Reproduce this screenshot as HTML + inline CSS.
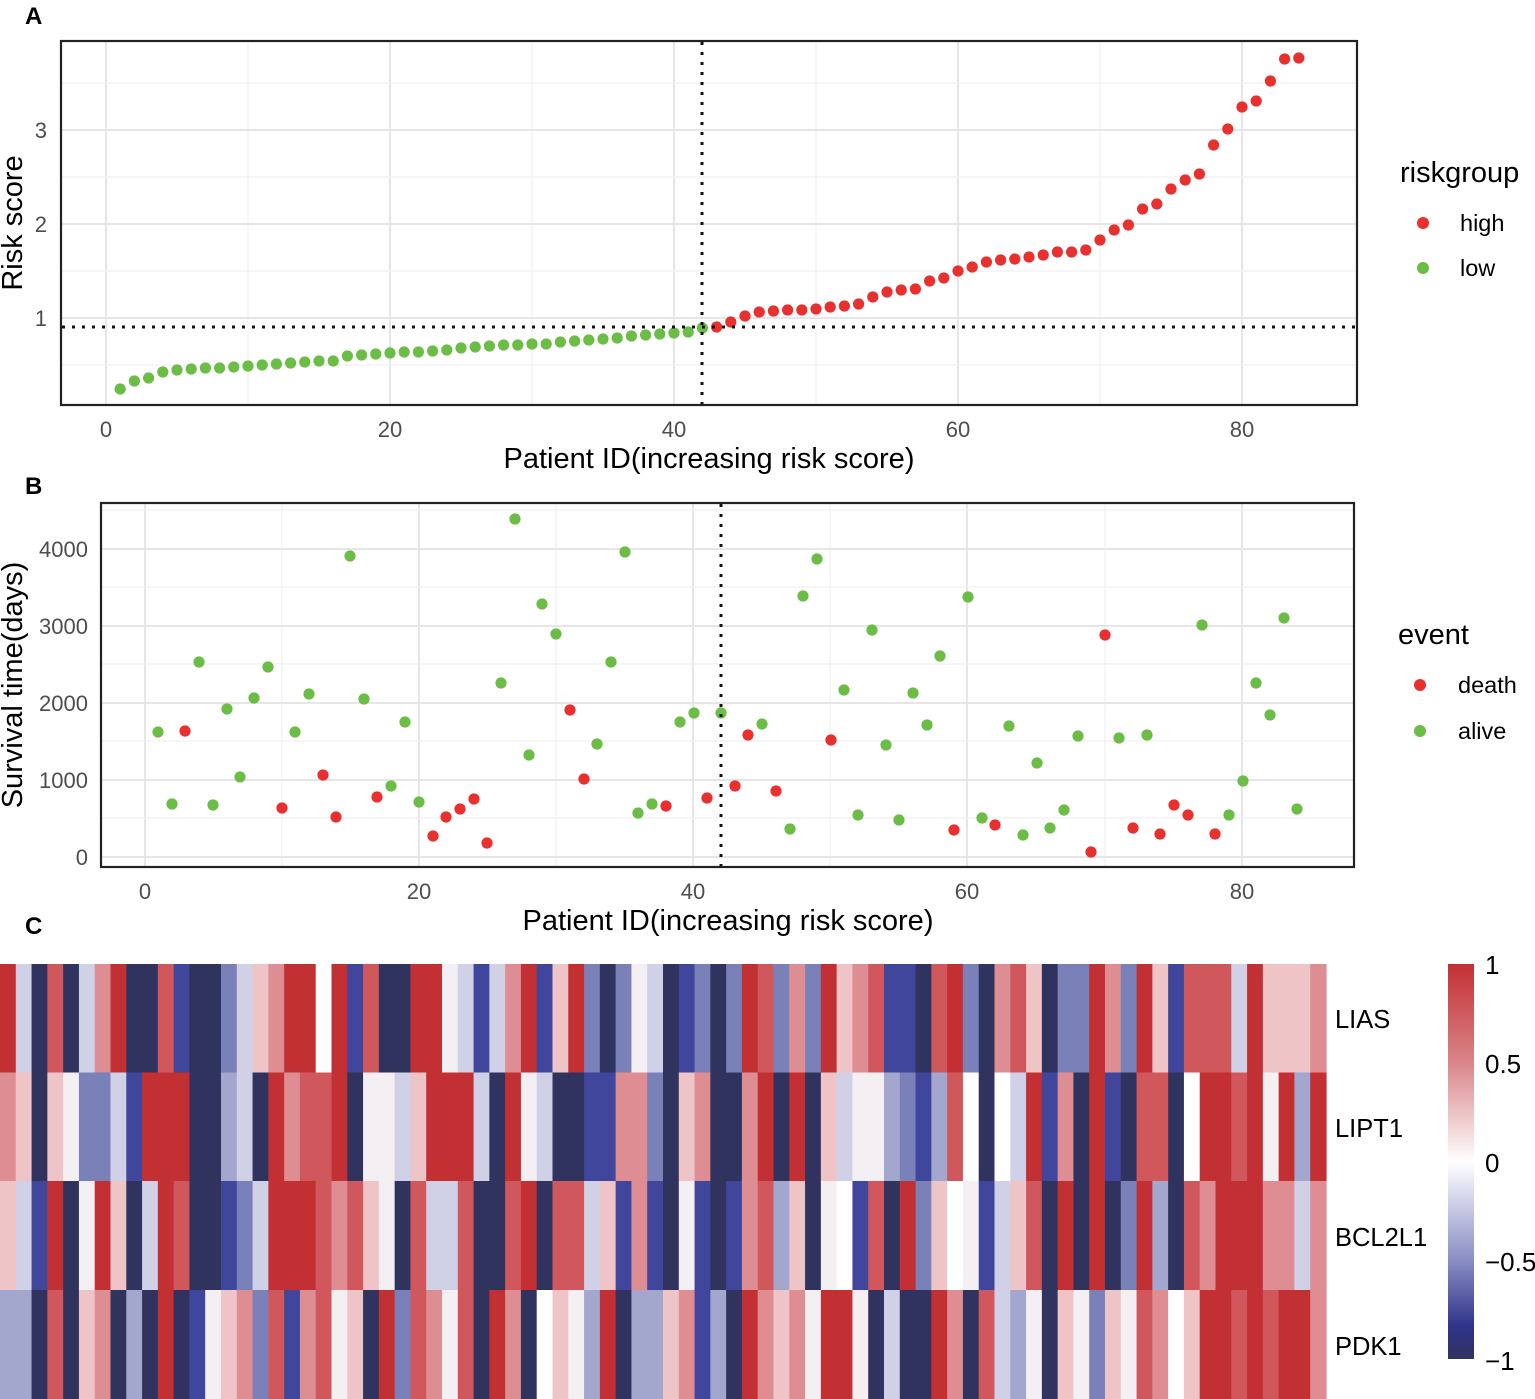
<!DOCTYPE html>
<html><head><meta charset="utf-8"><style>
html,body{margin:0;padding:0;background:#fff;width:1535px;height:1399px;overflow:hidden}
svg text{font-family:"Liberation Sans",Arial,sans-serif}
</style></head><body>
<svg id="s" width="1535" height="1399" viewBox="0 0 1535 1399" xmlns="http://www.w3.org/2000/svg">
<defs><linearGradient id="g" x1="0" y1="0" x2="0" y2="1">
<stop offset="0" stop-color="#c33033"/><stop offset="0.25" stop-color="#d98589"/><stop offset="0.5" stop-color="#ffffff"/><stop offset="0.75" stop-color="#8a8ec4"/><stop offset="0.92" stop-color="#2e3388"/><stop offset="1" stop-color="#31335f"/></linearGradient></defs>
<g id="grid"></g>
<g id="pts"></g>
<!-- Panel A -->
<rect x="61" y="41" width="1296" height="364" fill="none" stroke="#222" stroke-width="2.2"/>
<line x1="702" y1="42" x2="702" y2="404" stroke="#111" stroke-width="3" stroke-dasharray="3,7"/>
<line x1="62" y1="327" x2="1356" y2="327" stroke="#111" stroke-width="3" stroke-dasharray="3,7"/>
<g font-size="22" fill="#4d4d4d" text-anchor="middle">
<text x="106" y="437">0</text><text x="390" y="437">20</text><text x="674" y="437">40</text><text x="958" y="437">60</text><text x="1242" y="437">80</text>
<text x="47" y="326" text-anchor="end">1</text><text x="47" y="232" text-anchor="end">2</text><text x="47" y="138" text-anchor="end">3</text>
</g>
<text x="709" y="468" font-size="29" text-anchor="middle" fill="#000">Patient ID(increasing risk score)</text>
<text transform="translate(22,223) rotate(-90)" font-size="29" text-anchor="middle" fill="#000">Risk score</text>
<text x="1400" y="182" font-size="29" fill="#000">riskgroup</text>
<circle cx="1423" cy="223" r="6" fill="#e8312f"/><text x="1460" y="231" font-size="23.5">high</text>
<circle cx="1423" cy="268" r="6" fill="#6cbd45"/><text x="1460" y="276" font-size="23.5">low</text>
<text x="25" y="24" font-size="24" font-weight="bold">A</text>
<!-- Panel B -->
<rect x="101" y="503" width="1253" height="364" fill="none" stroke="#222" stroke-width="2.2"/>
<line x1="721" y1="504" x2="721" y2="866" stroke="#111" stroke-width="3" stroke-dasharray="3,7"/>
<g font-size="22" fill="#4d4d4d" text-anchor="middle">
<text x="145" y="899">0</text><text x="419" y="899">20</text><text x="693" y="899">40</text><text x="967" y="899">60</text><text x="1242" y="899">80</text>
<text x="88" y="865" text-anchor="end">0</text><text x="88" y="788" text-anchor="end">1000</text><text x="88" y="711" text-anchor="end">2000</text><text x="88" y="634" text-anchor="end">3000</text><text x="88" y="557" text-anchor="end">4000</text>
</g>
<text x="728" y="930" font-size="29" text-anchor="middle" fill="#000">Patient ID(increasing risk score)</text>
<text transform="translate(22,685) rotate(-90)" font-size="29" text-anchor="middle" fill="#000">Survival time(days)</text>
<text x="1398" y="644" font-size="29" fill="#000">event</text>
<circle cx="1420" cy="685" r="6" fill="#e8312f"/><text x="1458" y="693" font-size="23.5">death</text>
<circle cx="1420" cy="731" r="6" fill="#6cbd45"/><text x="1458" y="739" font-size="23.5">alive</text>
<text x="25" y="494" font-size="24" font-weight="bold">B</text>
<!-- Panel C -->
<text x="25" y="934" font-size="24" font-weight="bold">C</text>
<g id="hm"></g>
<g font-size="25.5" fill="#000">
<text x="1335" y="1028">LIAS</text><text x="1335" y="1137">LIPT1</text><text x="1335" y="1246">BCL2L1</text><text x="1335" y="1355">PDK1</text>
</g>
<rect x="1448" y="964" width="26" height="395" fill="url(#g)"/>
<g font-size="26" fill="#000">
<text x="1485" y="974">1</text><text x="1485" y="1073">0.5</text><text x="1485" y="1172">0</text><text x="1485" y="1271">−0.5</text><text x="1485" y="1370">−1</text>
</g>
</svg>
<script>
var NS="http://www.w3.org/2000/svg";
function el(p,t,a){var e=document.createElementNS(NS,t);for(var k in a)e.setAttribute(k,a[k]);p.appendChild(e);return e;}
var G=document.getElementById('grid');
[248,532,816,1100].forEach(function(x){el(G,'line',{x1:x,y1:42,x2:x,y2:404,stroke:'#f0f0f0','stroke-width':1.2})});
[106,390,674,958,1242].forEach(function(x){el(G,'line',{x1:x,y1:42,x2:x,y2:404,stroke:'#e6e6e6','stroke-width':2})});
[365,271,177,83].forEach(function(y){el(G,'line',{x1:62,y1:y,x2:1356,y2:y,stroke:'#f0f0f0','stroke-width':1.2})});
[318,224,130].forEach(function(y){el(G,'line',{x1:62,y1:y,x2:1356,y2:y,stroke:'#e6e6e6','stroke-width':2})});
[282,556,830,1105].forEach(function(x){el(G,'line',{x1:x,y1:504,x2:x,y2:866,stroke:'#f0f0f0','stroke-width':1.2})});
[145,419,693,967,1242].forEach(function(x){el(G,'line',{x1:x,y1:504,x2:x,y2:866,stroke:'#e6e6e6','stroke-width':2})});
[818,741,664,587,510].forEach(function(y){el(G,'line',{x1:102,y1:y,x2:1353,y2:y,stroke:'#f0f0f0','stroke-width':1.2})});
[857,780,703,626,549].forEach(function(y){el(G,'line',{x1:102,y1:y,x2:1353,y2:y,stroke:'#e6e6e6','stroke-width':2})});
var P=document.getElementById('pts');
var R='#e8312f',Gn='#6cbd45';
var ay=[389,381,378,372,370,369,368,368,367,366,365,364,363,362,361,361,356,355,354,353,352,352,351,350,348,347,346,345,345,344,344,342,341,340,339,338,336,335,334,333,332,328,
327,322,316,312,311,310,310,309,307,306,304,297,292,290,289,281,278,271,267,262,260,259,257,255,252,252,250,240,230,225,209,204,189,180,174,145,129,107,101,81,59,58];
ay.forEach(function(y,i){el(P,'circle',{cx:106+(i+1)*14.2,cy:y,r:5.6,fill:i<42?Gn:R})});
var b="158,732,g 172,804,g 185,731,r 199,662,g 213,805,g 227,709,g 240,777,g 254,698,g 268,667,g 282,808,r 295,732,g 309,694,g 323,775,r 336,817,r 350,556,g 364,699,g 377,797,r 391,786,g 405,722,g 419,802,g 433,836,r 446,817,r 460,809,r 474,799,r 487,843,r 501,683,g 515,519,g 529,755,g 542,604,g 556,634,g 570,710,r 584,779,r 597,744,g 611,662,g 625,552,g 638,813,g 652,804,g 666,806,r 680,722,g 694,713,g 707,798,r 721,713,g 735,786,r 748,735,r 762,724,g 776,791,r 790,829,g 803,596,g 817,559,g 831,740,r 844,690,g 858,815,g 872,630,g 886,745,g 899,820,g 913,693,g 927,725,g 940,656,g 954,830,r 968,597,g 982,818,g 995,825,r 1009,726,g 1023,835,g 1037,763,g 1050,828,g 1064,810,g 1078,736,g 1091,852,r 1105,635,r 1119,738,g 1133,828,r 1147,735,g 1160,834,r 1174,805,r 1188,815,r 1202,625,g 1215,834,r 1229,815,g 1243,781,g 1256,683,g 1270,715,g 1284,618,g 1297,809,g";
b.split(' ').forEach(function(s){var a=s.split(',');el(P,'circle',{cx:a[0],cy:a[1],r:5.6,fill:a[2]=='r'?R:Gn})});
var C={R:'#c33033',r:'#d0585c',q:'#de8e92',p:'#efc4c6',w:'#f4eff3',W:'#ffffff',l:'#d0d1e7',k:'#a3a6cd',m:'#7a80b8',B:'#3f469b',D:'#31335f'};
var rows=[
"RlDrDlqRDDrBDDmlpqRRWRBrDDRRwlBlqRBpRmDmwl"+"DBmDmRrmqmRpqrBBDrRmDqrpDmmRqmRpBrrrlRpppq",
"qpDpwmmlBRRRDDklDRqrrRDwwlpRRRlDRwlDDBBqqm"+"DpqDDqRDRDplwwkmBkrWDWlRBqDRBDrrDWRRrRwRkR",
"plBRDwRpDlRrDDBmlRRRrqrpwDrllrDDrRDrrlpBqB"+"DwBDBqrkpDwWBrDRmpWwBlprDRDRDmRkDrqRRRqqlq",
"kkDrDpqDkDRDBwpqmrBqrwpDRmrqwrDRqDWpwkRDk"+"k"+"pqBkDRqpqwRRwDlDDRqDrlkwDpwmpwrqWpRRrRrRRq"];
var H=document.getElementById('hm'),cw=1326/84,rt=[964,1072.5,1181,1290,1399];
rows.forEach(function(s,ri){for(var i=0;i<84;i++){var c=s[i]||'w';
el(H,'rect',{x:(i*cw).toFixed(2),y:rt[ri],width:(cw+0.6).toFixed(2),height:rt[ri+1]-rt[ri]+0.5,fill:C[c]});}});
</script>
</body></html>
